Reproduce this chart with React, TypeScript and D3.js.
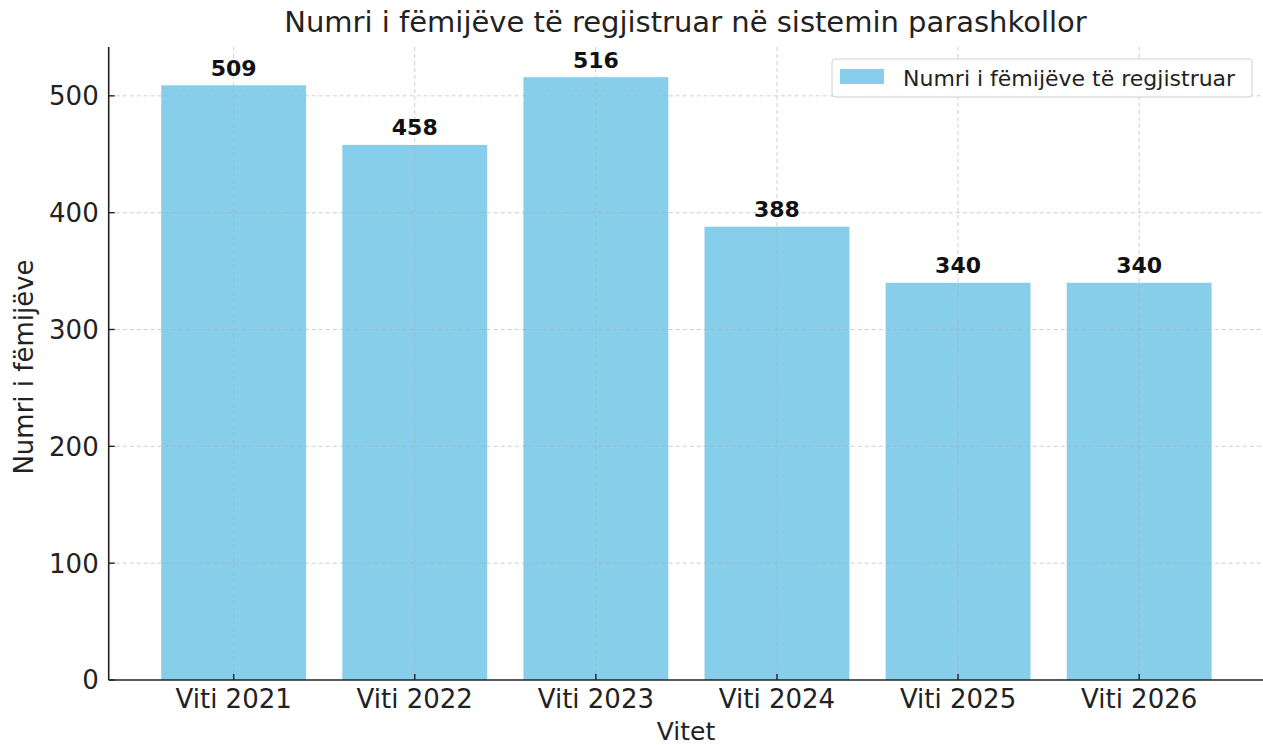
import { useEffect, useRef } from 'react'
import * as d3 from 'd3'

const categories = ['Viti 2021', 'Viti 2022', 'Viti 2023', 'Viti 2024', 'Viti 2025', 'Viti 2026']
const values = [509, 458, 516, 388, 340, 340]
const yTicks = [0, 100, 200, 300, 400, 500]
const title = 'Numri i fëmijëve të regjistruar në sistemin parashkollor'
const seriesName = 'Numri i fëmijëve të regjistruar'
const xLabel = 'Vitet'
const yLabel = 'Numri i fëmijëve'

const W = 1263
const H = 745
const font = 'DejaVu Sans, sans-serif'

export default function App() {
  const svgRef = useRef<SVGSVGElement>(null)

  useEffect(() => {
    if (!svgRef.current) return
    const svg = d3.select(svgRef.current)
    svg.selectAll('*').remove()

    const left = 108.7
    const bottom = 680
    const top = 47
    const step = 181.1
    // matplotlib-like x range: -0.69 .. 5.69
    const x = d3.scaleLinear().domain([-0.69, 5.69]).range([left, left + 6.38 * step])
    const y = d3.scaleLinear().domain([0, 541.8]).range([bottom, top])
    const right = x(5.69)

    const bars = svg.append('g')
    bars.selectAll('rect')
      .data(values)
      .enter()
      .append('rect')
      .attr('x', (_, i) => x(i - 0.4))
      .attr('width', x(0.4) - x(-0.4))
      .attr('y', d => y(d))
      .attr('height', d => bottom - y(d))
      .attr('fill', '#87ceeb')

    // grid over the bars
    const grid = svg.append('g')
      .attr('stroke', '#b0b0b0')
      .attr('stroke-width', 1)
      .attr('stroke-dasharray', '4,3')
      .attr('opacity', 0.6)
    grid.selectAll('line.h')
      .data(yTicks.slice(1))
      .enter()
      .append('line')
      .attr('x1', left).attr('x2', right)
      .attr('y1', d => y(d)).attr('y2', d => y(d))
    grid.selectAll('line.v')
      .data(categories)
      .enter()
      .append('line')
      .attr('x1', (_, i) => x(i)).attr('x2', (_, i) => x(i))
      .attr('y1', top).attr('y2', bottom)

    // value labels
    svg.append('g').selectAll('text')
      .data(values)
      .enter()
      .append('text')
      .attr('x', (_, i) => x(i))
      .attr('y', d => y(d) - 9.5)
      .attr('text-anchor', 'middle')
      .attr('font-family', font)
      .attr('font-weight', 'bold')
      .attr('font-size', 22)
      .attr('fill', '#111')
      .text(d => d)

    // spines
    svg.append('line').attr('x1', left).attr('x2', left).attr('y1', top).attr('y2', bottom)
      .attr('stroke', '#222').attr('stroke-width', 1.6)
    svg.append('line').attr('x1', left).attr('x2', right).attr('y1', bottom).attr('y2', bottom)
      .attr('stroke', '#222').attr('stroke-width', 1.6)

    // y ticks (inward)
    const yt = svg.append('g')
    yt.selectAll('line')
      .data(yTicks)
      .enter()
      .append('line')
      .attr('x1', left).attr('x2', left + 6)
      .attr('y1', d => y(d)).attr('y2', d => y(d))
      .attr('stroke', '#222').attr('stroke-width', 1.4)
    yt.selectAll('text')
      .data(yTicks)
      .enter()
      .append('text')
      .attr('x', left - 10)
      .attr('y', d => y(d))
      .attr('dy', '0.36em')
      .attr('text-anchor', 'end')
      .attr('font-family', font)
      .attr('font-size', 26)
      .attr('fill', '#222')
      .text(d => d)

    // x ticks (inward)
    const xt = svg.append('g')
    xt.selectAll('line')
      .data(categories)
      .enter()
      .append('line')
      .attr('x1', (_, i) => x(i)).attr('x2', (_, i) => x(i))
      .attr('y1', bottom).attr('y2', bottom - 6)
      .attr('stroke', '#222').attr('stroke-width', 1.4)
    xt.selectAll('text')
      .data(categories)
      .enter()
      .append('text')
      .attr('x', (_, i) => x(i))
      .attr('y', bottom + 28)
      .attr('text-anchor', 'middle')
      .attr('font-family', font)
      .attr('font-size', 26)
      .attr('fill', '#222')
      .text(d => d)

    // axis labels and title
    svg.append('text')
      .attr('x', 686)
      .attr('y', 740)
      .attr('text-anchor', 'middle')
      .attr('font-family', font)
      .attr('font-size', 25)
      .attr('fill', '#222')
      .text(xLabel)
    svg.append('text')
      .attr('transform', `translate(33,367) rotate(-90)`)
      .attr('text-anchor', 'middle')
      .attr('font-family', font)
      .attr('font-size', 26)
      .attr('fill', '#222')
      .text(yLabel)
    svg.append('text')
      .attr('x', 685.5)
      .attr('y', 32)
      .attr('text-anchor', 'middle')
      .attr('font-family', font)
      .attr('font-size', 29)
      .attr('fill', '#222')
      .text(title)

    // legend
    const lg = svg.append('g')
    lg.append('rect')
      .attr('x', 832).attr('y', 59).attr('width', 420).attr('height', 38)
      .attr('rx', 3)
      .attr('fill', 'white').attr('fill-opacity', 0.85)
      .attr('stroke', '#d0d0d0')
    lg.append('rect')
      .attr('x', 840).attr('y', 69).attr('width', 44).attr('height', 15)
      .attr('fill', '#87ceeb')
    lg.append('text')
      .attr('x', 903).attr('y', 78)
      .attr('dy', '0.36em')
      .attr('font-family', font)
      .attr('font-size', 22)
      .attr('fill', '#222')
      .text(seriesName)
  }, [])

  return (
    <div style={{ position: 'absolute', left: 0, top: 0 }}>
      <svg ref={svgRef} width={W} height={H} style={{ display: 'block', background: 'white' }} />
    </div>
  )
}
